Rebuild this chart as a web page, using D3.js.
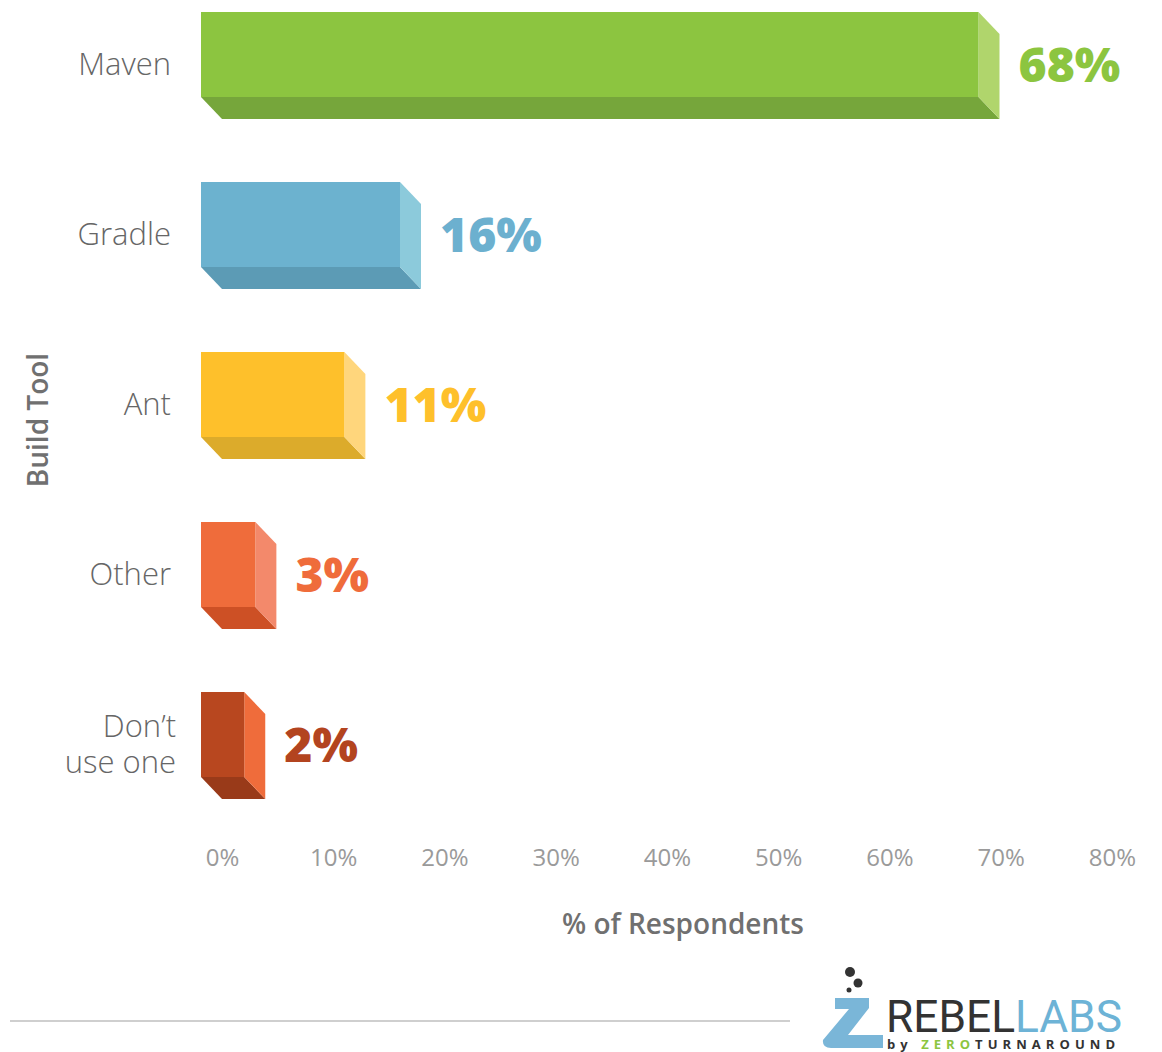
<!DOCTYPE html>
<html>
<head>
<meta charset="utf-8">
<script src="https://cdn.jsdelivr.net/npm/d3@7"></script>
<style>
  body { margin: 0; background: #fff; }
  svg { display: block; }
</style>
</head>
<body>
<div id="chart"></div>
<script>
// data
const categories = ["Maven", "Gradle", "Ant", "Other", "Don’t\nuse one"];
const shares = [68, 16, 11, 3, 2];
const tickValues = [0, 10, 20, 30, 40, 50, 60, 70, 80];
const frontColors = ["#8cc540", "#6cb2cf", "#fec02b", "#ef6c3b", "#b8471f"];
const sideColors = ["#b0d56c", "#8ccadb", "#ffd67c", "#f3896b", "#ef6c3b"];
const bottomColors = ["#76a63b", "#5c9bb5", "#dcab2b", "#cd5025", "#993a19"];
const labelColors = ["#8cc540", "#6cb0cf", "#fec02b", "#ef6c3b", "#b3441f"];

const W = 1162, H = 1052;
const FRONT_H = 85, DX = 21, DY = 22;

let svg = d3.select("#chart").append("svg")
    .attr("width", W)
    .attr("height", H);

let x = d3.scaleLinear().domain([0, 80]).range([222, 1112]);
let y = d3.scaleBand().domain(categories).range([12, 12 + 5 * 170]).paddingInner(0);

let rows = categories.map(function(c, i) {
    return { cat: c, value: shares[i], i: i };
});

let barBase = x(0) - 21;

let bars = svg.append("g").attr("class", "bars")
    .selectAll("g.bar")
    .data(rows)
    .enter()
    .append("g")
    .attr("class", "bar");

// bottom face
bars.append("polygon")
    .attr("points", function(d) {
        let x0 = barBase, x1 = x(d.value), yb = y(d.cat) + FRONT_H;
        return [[x0, yb], [x1, yb], [x1 + DX, yb + DY], [x0 + DX, yb + DY]].join(" ");
    })
    .attr("fill", function(d) { return bottomColors[d.i]; });

// side face
bars.append("polygon")
    .attr("points", function(d) {
        let x1 = x(d.value), yt = y(d.cat), yb = yt + FRONT_H;
        return [[x1, yt], [x1 + DX, yt + DY], [x1 + DX, yb + DY], [x1, yb]].join(" ");
    })
    .attr("fill", function(d) { return sideColors[d.i]; });

// front face
bars.append("rect")
    .attr("x", barBase)
    .attr("y", function(d) { return y(d.cat); })
    .attr("width", function(d) { return x(d.value) - barBase; })
    .attr("height", FRONT_H)
    .attr("fill", function(d) { return frontColors[d.i]; });

// value labels
bars.append("text")
    .attr("x", function(d) { return x(d.value) + DX + 19; })
    .attr("y", function(d) { return y(d.cat) + (FRONT_H + DY) / 2; })
    .attr("dy", "0.34em")
    .attr("font-family", "'Open Sans', sans-serif")
    .attr("font-weight", 800)
    .attr("font-size", 48)
    .attr("fill", function(d) { return labelColors[d.i]; })
    .text(function(d) { return d.value + "%"; });

// category labels
bars.append("text")
    .attr("text-anchor", "end")
    .attr("font-family", "'Open Sans', sans-serif")
    .attr("font-weight", 300)
    .attr("font-size", 31)
    .attr("fill", "#666")
    .each(function(d) {
        let lines = d.cat.split("\n");
        let cy = y(d.cat) + (FRONT_H + DY) / 2 - 2 - (lines.length - 1) * 18;
        d3.select(this).selectAll("tspan")
            .data(lines)
            .enter()
            .append("tspan")
            .attr("x", lines.length > 1 ? 176 : 171)
            .attr("y", function(l, j) { return cy + j * 36; })
            .attr("dy", "0.36em")
            .text(function(l) { return l; });
    });

// x axis
let xAxis = svg.append("g")
    .attr("class", "axis x")
    .attr("transform", "translate(0,849)")
    .call(d3.axisBottom(x).tickValues(tickValues).tickSize(0).tickPadding(0)
        .tickFormat(function(d) { return d + "%"; }));
xAxis.select(".domain").remove();
xAxis.selectAll("text")
    .attr("font-family", "'Open Sans', sans-serif")
    .attr("font-size", 24)
    .attr("fill", "#9a9a9a");

// axis titles
svg.append("text")
    .attr("x", 683)
    .attr("y", 934)
    .attr("text-anchor", "middle")
    .attr("font-family", "'Open Sans', sans-serif")
    .attr("font-weight", 600)
    .attr("font-size", 28)
    .attr("fill", "#707070")
    .text("% of Respondents");

svg.append("text")
    .attr("transform", "translate(48,420) rotate(-90)")
    .attr("text-anchor", "middle")
    .attr("font-family", "'Open Sans', sans-serif")
    .attr("font-weight", 600)
    .attr("font-size", 28)
    .attr("fill", "#707070")
    .text("Build Tool");

// footer rule
svg.append("line")
    .attr("x1", 10).attr("x2", 790)
    .attr("y1", 1021).attr("y2", 1021)
    .attr("stroke", "#cfcfcf")
    .attr("stroke-width", 2);

// logo
let logo = svg.append("g").attr("class", "logo");
logo.append("path")
    .attr("d", "M835,998 L869,998 L869,1008 L848,1035 L883,1035 L883,1048 L831,1048 Q822,1048 823,1040 L849,1009 L835,1009 Z")
    .attr("fill", "#7ab6d8");
logo.selectAll("circle")
    .data([[850, 972, 5], [858, 983, 4.5], [849, 990, 2.5]])
    .enter()
    .append("circle")
    .attr("cx", function(d) { return d[0]; })
    .attr("cy", function(d) { return d[1]; })
    .attr("r", function(d) { return d[2]; })
    .attr("fill", "#333");

let brand = logo.append("text")
    .attr("x", 886)
    .attr("y", 1032)
    .attr("font-family", "Roboto, sans-serif")
    .attr("font-size", 44)
    .attr("textLength", 236)
    .attr("lengthAdjust", "spacingAndGlyphs");
brand.append("tspan").attr("fill", "#333").text("REBEL");
brand.append("tspan").attr("fill", "#6db3d6").text("LABS");

let by = logo.append("text")
    .attr("x", 887)
    .attr("y", 1049)
    .attr("font-family", "'Open Sans', sans-serif")
    .attr("font-weight", 700)
    .attr("font-size", 13)
    .attr("textLength", 228)
    .attr("lengthAdjust", "spacing");
by.append("tspan").attr("fill", "#333").text("by ");
by.append("tspan").attr("fill", "#8cc540").text("ZERO");
by.append("tspan").attr("fill", "#333").text("TURNAROUND");
</script>
</body>
</html>
